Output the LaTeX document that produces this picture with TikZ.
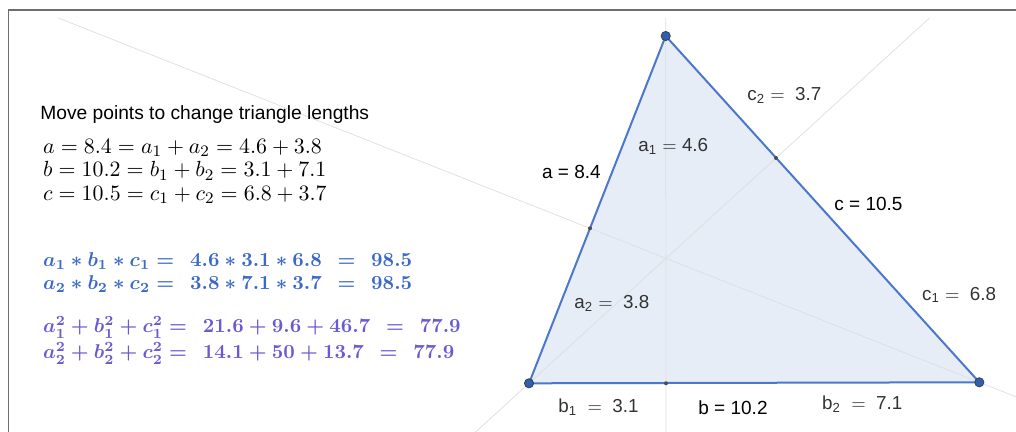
\documentclass[tikz,border=0pt]{standalone}
\usepackage{amsmath, amssymb}
\usepackage[no-math]{fontspec}
\setmainfont{Liberation Sans}
\usetikzlibrary{calc}
\definecolor{geoblue}{RGB}{75, 120, 205}
\definecolor{geofill}{RGB}{230, 237, 247}
\definecolor{dotblue}{RGB}{45, 95, 180}
\definecolor{prodblue}{RGB}{60, 105, 200}
\definecolor{sqpurple}{RGB}{105, 90, 210}
\definecolor{guidegray}{RGB}{222, 222, 222}
\definecolor{framegray}{RGB}{110, 110, 110}

\begin{document}
\begin{tikzpicture}[x=0.5pt, y=-0.5pt,
    every node/.style={inner sep=0pt, anchor=base west},
    vertex/.style={circle, fill=dotblue, draw=black!75, line width=0.4pt,
      minimum size=4.6pt, anchor=center},
    sidept/.style={circle, fill=black!70, minimum size=2pt, anchor=center},
    guide/.style={guidegray, line width=0.35pt},
    mathrow/.style={font=\fontsize{10.75}{12}\selectfont},
    boldrow/.style={font=\fontsize{10.05}{12}\selectfont\boldmath},
    lenlbl/.style={font=\fontsize{9.5}{11}\selectfont},
    partlbl/.style={font=\fontsize{9.4}{11}\selectfont, text=black!80}]
  \useasboundingbox (0,0) rectangle (1016,432);

  % ── Frame ───────────────────────────────────────────────────────
  \draw[framegray, line width=0.8pt] (8.3,432) -- (8.3,9.8) -- (1016,9.8);

  % ── Points ──────────────────────────────────────────────────────
  \coordinate (A) at (665.7, 36);
  \coordinate (B) at (529, 383.3);
  \coordinate (C) at (979.3, 382.3);
  \coordinate (Pa) at (590, 228.3);
  \coordinate (Pb) at (666, 383.3);
  \coordinate (Pc) at (776, 158);

  % ── Triangle ────────────────────────────────────────────────────
  \draw[geoblue, line width=1pt, fill=geofill] (A) -- (B) -- (C) -- cycle;

  % ── Cevians (clipped guides) ────────────────────────────────────
  \begin{scope}
    \clip (0,18.3) rectangle (1016,432);
    \draw[guide] ($(C)!3!(Pa)$) -- ($(Pa)!1.5!(C)$);
    \draw[guide] ($(Pc)!2!(B)$) -- ($(B)!2!(Pc)$);
    \draw[guide] (A) -- ($(A)!2!(Pb)$);
    \draw[guide] (A) -- ($(Pb)!3!(A)$);
  \end{scope}

  % Side points + vertices
  \foreach \p in {Pa, Pb, Pc}{
    \node[sidept] (dot\p) at (\p) {};
  }
  \foreach \v in {A, B, C}{
    \node[vertex] (dot\v) at (\v) {};
  }

  % ── Side labels ─────────────────────────────────────────────────
  \node[lenlbl] (lblA) at (541.7, 178.3) {a = 8.4};
  \node[lenlbl] (lblB) at (698, 414.3) {b = 10.2};
  \node[lenlbl] (lblC) at (834, 210.7) {c = 10.5};
  \foreach \x/\y/\lbl in {638/151.7/{a\textsubscript{1} $=$ 4.6},
                          574/308.3/{a\textsubscript{2} $=$\ \ 3.8},
                          558/412.3/{b\textsubscript{1}\ \ $=$\ \ 3.1},
                          821.7/409.3/{b\textsubscript{2}\ \ $=$\ \ 7.1},
                          921.7/300/{c\textsubscript{1} $=$\ \ 6.8},
                          747/101/{c\textsubscript{2} $=$\ \ 3.7}}{
    \node[partlbl] at (\x,\y) {\lbl};
  }

  % ── Left text block ─────────────────────────────────────────────
  \node[font=\fontsize{9.6}{11}\selectfont] (title) at (40, 120) {Move points to change triangle lengths};
  \node[mathrow] (rowa) at (42.7, 153.3) {$a = 8.4 = a_1 + a_2 = 4.6 + 3.8$};
  \node[mathrow] (rowb) at (42.7, 176.8) {$b = 10.2 = b_1 + b_2 = 3.1 + 7.1$};
  \node[mathrow] (rowc) at (42.7, 200.3) {$c = 10.5 = c_1 + c_2 = 6.8 + 3.7$};

  % Products
  \node[boldrow, text=prodblue] (prod1) at (42.7, 266.7) {$a_1 \ast b_1 \ast c_1 =\ \, 4.6 \ast 3.1 \ast 6.8\ \, =\ \, 98.5$};
  \node[boldrow, text=prodblue] (prod2) at (42.7, 289.3) {$a_2 \ast b_2 \ast c_2 =\ \, 3.8 \ast 7.1 \ast 3.7\ \, =\ \, 98.5$};

  % Sums of squares
  \node[boldrow, text=sqpurple] (sq1) at (42.7, 332.7) {$a_1^2 + b_1^2 + c_1^2 =\ \, 21.6 + 9.6 + 46.7\ \, =\ \, 77.9$};
  \node[boldrow, text=sqpurple] (sq2) at (42.7, 358.3) {$a_2^2 + b_2^2 + c_2^2 =\ \, 14.1 + 50 + 13.7\ \, =\ \, 77.9$};
\end{tikzpicture}
\end{document}
